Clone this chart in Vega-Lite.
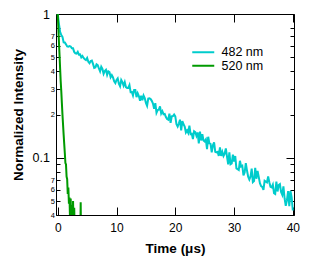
{
  "$schema": "https://vega.github.io/schema/vega-lite/v6.json",
  "width": 238,
  "height": 201,
  "autosize": {"type": "none"},
  "padding": {"left": 56, "top": 14, "right": 27, "bottom": 49},
  "background": "white",
  "config": {
    "font": "Liberation Sans",
    "view": {"stroke": "black", "strokeWidth": 1},
    "axis": {"grid": false, "domain": false, "tickColor": "black", "tickWidth": 1, "labelColor": "black", "titleColor": "black", "labelFont": "Liberation Sans", "titleFont": "Liberation Sans"}
  },
  "data": {"values": [
    {"s":"482 nm","t":0,"v":1.0},{"s":"482 nm","t":0.2,"v":0.855},{"s":"482 nm","t":0.4,"v":0.75},{"s":"482 nm","t":0.6,"v":0.713},{"s":"482 nm","t":0.8,"v":0.693},
    {"s":"482 nm","t":1.0,"v":0.636},{"s":"482 nm","t":1.2,"v":0.634},{"s":"482 nm","t":1.4,"v":0.615},{"s":"482 nm","t":1.6,"v":0.595},{"s":"482 nm","t":1.8,"v":0.593},
    {"s":"482 nm","t":2.0,"v":0.598},{"s":"482 nm","t":2.2,"v":0.594},{"s":"482 nm","t":2.4,"v":0.577},{"s":"482 nm","t":2.6,"v":0.577},{"s":"482 nm","t":2.8,"v":0.545},
    {"s":"482 nm","t":3.0,"v":0.532},{"s":"482 nm","t":3.2,"v":0.53},{"s":"482 nm","t":3.4,"v":0.545},{"s":"482 nm","t":3.6,"v":0.521},{"s":"482 nm","t":3.8,"v":0.523},
    {"s":"482 nm","t":4.0,"v":0.499},{"s":"482 nm","t":4.2,"v":0.51},{"s":"482 nm","t":4.4,"v":0.495},{"s":"482 nm","t":4.6,"v":0.484},{"s":"482 nm","t":4.8,"v":0.478},
    {"s":"482 nm","t":5.0,"v":0.494},{"s":"482 nm","t":5.2,"v":0.465},{"s":"482 nm","t":5.4,"v":0.455},{"s":"482 nm","t":5.6,"v":0.471},{"s":"482 nm","t":5.8,"v":0.474},
    {"s":"482 nm","t":6.0,"v":0.45},{"s":"482 nm","t":6.2,"v":0.422},{"s":"482 nm","t":6.4,"v":0.425},{"s":"482 nm","t":6.6,"v":0.447},{"s":"482 nm","t":6.8,"v":0.441},
    {"s":"482 nm","t":7.0,"v":0.418},{"s":"482 nm","t":7.2,"v":0.399},{"s":"482 nm","t":7.4,"v":0.43},{"s":"482 nm","t":7.6,"v":0.415},{"s":"482 nm","t":7.8,"v":0.384},
    {"s":"482 nm","t":8.0,"v":0.401},{"s":"482 nm","t":8.2,"v":0.409},{"s":"482 nm","t":8.4,"v":0.377},{"s":"482 nm","t":8.6,"v":0.399},{"s":"482 nm","t":8.8,"v":0.394},
    {"s":"482 nm","t":9.0,"v":0.363},{"s":"482 nm","t":9.2,"v":0.376},{"s":"482 nm","t":9.4,"v":0.362},{"s":"482 nm","t":9.6,"v":0.34},{"s":"482 nm","t":9.8,"v":0.331},
    {"s":"482 nm","t":10.0,"v":0.348},{"s":"482 nm","t":10.2,"v":0.357},{"s":"482 nm","t":10.4,"v":0.327},{"s":"482 nm","t":10.6,"v":0.314},{"s":"482 nm","t":10.8,"v":0.348},
    {"s":"482 nm","t":11.0,"v":0.336},{"s":"482 nm","t":11.2,"v":0.318},{"s":"482 nm","t":11.4,"v":0.336},{"s":"482 nm","t":11.6,"v":0.31},{"s":"482 nm","t":11.8,"v":0.306},
    {"s":"482 nm","t":12.0,"v":0.306},{"s":"482 nm","t":12.2,"v":0.32},{"s":"482 nm","t":12.4,"v":0.286},{"s":"482 nm","t":12.6,"v":0.287},{"s":"482 nm","t":12.8,"v":0.271},
    {"s":"482 nm","t":13.0,"v":0.296},{"s":"482 nm","t":13.2,"v":0.296},{"s":"482 nm","t":13.4,"v":0.264},{"s":"482 nm","t":13.6,"v":0.281},{"s":"482 nm","t":13.8,"v":0.269},
    {"s":"482 nm","t":14.0,"v":0.249},{"s":"482 nm","t":14.2,"v":0.27},{"s":"482 nm","t":14.4,"v":0.251},{"s":"482 nm","t":14.6,"v":0.271},{"s":"482 nm","t":14.8,"v":0.26},
    {"s":"482 nm","t":15.0,"v":0.241},{"s":"482 nm","t":15.2,"v":0.23},{"s":"482 nm","t":15.4,"v":0.258},{"s":"482 nm","t":15.6,"v":0.259},{"s":"482 nm","t":15.8,"v":0.256},
    {"s":"482 nm","t":16.0,"v":0.249},{"s":"482 nm","t":16.2,"v":0.238},{"s":"482 nm","t":16.4,"v":0.219},{"s":"482 nm","t":16.6,"v":0.24},{"s":"482 nm","t":16.8,"v":0.206},
    {"s":"482 nm","t":17.0,"v":0.215},{"s":"482 nm","t":17.2,"v":0.216},{"s":"482 nm","t":17.4,"v":0.228},{"s":"482 nm","t":17.6,"v":0.203},{"s":"482 nm","t":17.8,"v":0.211},
    {"s":"482 nm","t":18.0,"v":0.201},{"s":"482 nm","t":18.2,"v":0.202},{"s":"482 nm","t":18.4,"v":0.192},{"s":"482 nm","t":18.6,"v":0.186},{"s":"482 nm","t":18.8,"v":0.184},
    {"s":"482 nm","t":19.0,"v":0.203},{"s":"482 nm","t":19.2,"v":0.175},{"s":"482 nm","t":19.4,"v":0.194},{"s":"482 nm","t":19.6,"v":0.195},{"s":"482 nm","t":19.8,"v":0.2},
    {"s":"482 nm","t":20.0,"v":0.194},{"s":"482 nm","t":20.2,"v":0.171},{"s":"482 nm","t":20.4,"v":0.165},{"s":"482 nm","t":20.6,"v":0.173},{"s":"482 nm","t":20.8,"v":0.184},
    {"s":"482 nm","t":21.0,"v":0.155},{"s":"482 nm","t":21.2,"v":0.18},{"s":"482 nm","t":21.4,"v":0.171},{"s":"482 nm","t":21.6,"v":0.165},{"s":"482 nm","t":21.8,"v":0.15},
    {"s":"482 nm","t":22.0,"v":0.155},{"s":"482 nm","t":22.2,"v":0.149},{"s":"482 nm","t":22.4,"v":0.167},{"s":"482 nm","t":22.6,"v":0.146},{"s":"482 nm","t":22.8,"v":0.147},
    {"s":"482 nm","t":23.0,"v":0.135},{"s":"482 nm","t":23.2,"v":0.153},{"s":"482 nm","t":23.4,"v":0.151},{"s":"482 nm","t":23.6,"v":0.142},{"s":"482 nm","t":23.8,"v":0.15},
    {"s":"482 nm","t":24.0,"v":0.126},{"s":"482 nm","t":24.2,"v":0.152},{"s":"482 nm","t":24.4,"v":0.132},{"s":"482 nm","t":24.6,"v":0.146},{"s":"482 nm","t":24.8,"v":0.132},
    {"s":"482 nm","t":25.0,"v":0.13},{"s":"482 nm","t":25.2,"v":0.134},{"s":"482 nm","t":25.4,"v":0.115},{"s":"482 nm","t":25.6,"v":0.14},{"s":"482 nm","t":25.8,"v":0.126},
    {"s":"482 nm","t":26.0,"v":0.125},{"s":"482 nm","t":26.2,"v":0.109},{"s":"482 nm","t":26.4,"v":0.122},{"s":"482 nm","t":26.6,"v":0.128},{"s":"482 nm","t":26.8,"v":0.11},
    {"s":"482 nm","t":27.0,"v":0.109},{"s":"482 nm","t":27.2,"v":0.11},{"s":"482 nm","t":27.4,"v":0.103},{"s":"482 nm","t":27.6,"v":0.118},{"s":"482 nm","t":27.8,"v":0.103},
    {"s":"482 nm","t":28.0,"v":0.11},{"s":"482 nm","t":28.2,"v":0.103},{"s":"482 nm","t":28.4,"v":0.107},{"s":"482 nm","t":28.6,"v":0.116},{"s":"482 nm","t":28.8,"v":0.102},
    {"s":"482 nm","t":29.0,"v":0.0899},{"s":"482 nm","t":29.2,"v":0.109},{"s":"482 nm","t":29.4,"v":0.0902},{"s":"482 nm","t":29.6,"v":0.0914},{"s":"482 nm","t":29.8,"v":0.105},
    {"s":"482 nm","t":30.0,"v":0.0941},{"s":"482 nm","t":30.2,"v":0.1028},{"s":"482 nm","t":30.4,"v":0.0844},{"s":"482 nm","t":30.6,"v":0.0833},{"s":"482 nm","t":30.8,"v":0.0822},
    {"s":"482 nm","t":31.0,"v":0.0953},{"s":"482 nm","t":31.2,"v":0.087},{"s":"482 nm","t":31.4,"v":0.0881},{"s":"482 nm","t":31.6,"v":0.0755},{"s":"482 nm","t":31.8,"v":0.0791},
    {"s":"482 nm","t":32.0,"v":0.0917},{"s":"482 nm","t":32.2,"v":0.0815},{"s":"482 nm","t":32.4,"v":0.0738},{"s":"482 nm","t":32.6,"v":0.0705},{"s":"482 nm","t":32.8,"v":0.074},
    {"s":"482 nm","t":33.0,"v":0.0841},{"s":"482 nm","t":33.2,"v":0.0677},{"s":"482 nm","t":33.4,"v":0.0689},{"s":"482 nm","t":33.6,"v":0.0851},{"s":"482 nm","t":33.8,"v":0.0715},
    {"s":"482 nm","t":34.0,"v":0.081},{"s":"482 nm","t":34.2,"v":0.0737},{"s":"482 nm","t":34.4,"v":0.0665},{"s":"482 nm","t":34.6,"v":0.0636},{"s":"482 nm","t":34.8,"v":0.0628},
    {"s":"482 nm","t":35.0,"v":0.0598},{"s":"482 nm","t":35.2,"v":0.0691},{"s":"482 nm","t":35.4,"v":0.0682},{"s":"482 nm","t":35.6,"v":0.0674},{"s":"482 nm","t":35.8,"v":0.0742},
    {"s":"482 nm","t":36.0,"v":0.0676},{"s":"482 nm","t":36.2,"v":0.0629},{"s":"482 nm","t":36.4,"v":0.0622},{"s":"482 nm","t":36.6,"v":0.065},{"s":"482 nm","t":36.8,"v":0.0567},
    {"s":"482 nm","t":37.0,"v":0.056},{"s":"482 nm","t":37.2,"v":0.0682},{"s":"482 nm","t":37.4,"v":0.0583},{"s":"482 nm","t":37.6,"v":0.0647},{"s":"482 nm","t":37.8,"v":0.0656},
    {"s":"482 nm","t":38.0,"v":0.0578},{"s":"482 nm","t":38.2,"v":0.0553},{"s":"482 nm","t":38.4,"v":0.0633},{"s":"482 nm","t":38.6,"v":0.0521},{"s":"482 nm","t":38.8,"v":0.0463},
    {"s":"482 nm","t":39.0,"v":0.0507},{"s":"482 nm","t":39.2,"v":0.0587},{"s":"482 nm","t":39.4,"v":0.0461},{"s":"482 nm","t":39.6,"v":0.0587},{"s":"482 nm","t":39.8,"v":0.0531},
    {"s":"482 nm","t":40.0,"v":0.043},
    {"s":"520 nm","t":0,"v":1.0},{"s":"520 nm","t":0.1,"v":0.8},{"s":"520 nm","t":0.2,"v":0.64},{"s":"520 nm","t":0.3,"v":0.52},{"s":"520 nm","t":0.4,"v":0.42},
    {"s":"520 nm","t":0.5,"v":0.34},{"s":"520 nm","t":0.6,"v":0.29},{"s":"520 nm","t":0.7,"v":0.24},{"s":"520 nm","t":0.8,"v":0.2},{"s":"520 nm","t":0.9,"v":0.17},
    {"s":"520 nm","t":1.0,"v":0.145},{"s":"520 nm","t":1.1,"v":0.125},{"s":"520 nm","t":1.2,"v":0.108},{"s":"520 nm","t":1.3,"v":0.092},{"s":"520 nm","t":1.4,"v":0.09},
    {"s":"520 nm","t":1.5,"v":0.074},{"s":"520 nm","t":1.6,"v":0.071},{"s":"520 nm","t":1.7,"v":0.056},{"s":"520 nm","t":1.8,"v":0.062},{"s":"520 nm","t":1.9,"v":0.048},
    {"s":"520 nm","t":2.0,"v":0.053},{"s":"520 nm","t":2.1,"v":0.035},{"s":"520 nm","t":2.2,"v":0.052},{"s":"520 nm","t":2.3,"v":0.032},{"s":"520 nm","t":2.4,"v":0.047},
    {"s":"520 nm","t":2.5,"v":0.03},{"s":"520 nm","t":2.6,"v":0.05},{"s":"520 nm","t":2.7,"v":0.033},{"s":"520 nm","t":2.8,"v":0.045},{"s":"520 nm","t":2.9,"v":0.028},
    {"s":"520 nm","t":3.0,"v":0.025},{"s":"520 nm","t":3.2,"v":0.02},{"s":"520 nm","t":3.4,"v":0.022},{"s":"520 nm","t":3.6,"v":0.02},{"s":"520 nm","t":3.8,"v":0.02},
    {"s":"520 nm","t":3.9,"v":0.049},{"s":"520 nm","t":4.0,"v":0.02},{"s":"520 nm","t":4.4,"v":0.02},{"s":"520 nm","t":5.0,"v":0.018},{"s":"520 nm","t":6.0,"v":0.015}
  ]},
  "layer": [
    {
      "transform": [{"filter": "datum.s == '482 nm'"}],
      "mark": {"type": "line", "clip": true, "strokeWidth": 2},
      "encoding": {
        "x": {"field": "t", "type": "quantitative", "scale": {"domain": [-0.3, 40.2], "nice": false, "zero": false},
          "axis": {"orient": "bottom", "values": [0, 10, 20, 30, 40], "tickSize": -8, "labelPadding": 15.5, "labelFontSize": 12, "labelBaseline": "top",
            "title": "Time (μs)", "titleFontSize": 13.5, "titleFontWeight": "bold", "titleX": 119, "titleY": 33, "titleBaseline": "middle", "titleAnchor": "middle"}},
        "y": {"field": "v", "type": "quantitative", "scale": {"type": "log", "domain": [0.04, 1], "nice": false},
          "axis": {"orient": "left", "values": [1, 0.8, 0.7, 0.6, 0.5, 0.4, 0.3, 0.2, 0.1, 0.09, 0.08, 0.07, 0.06, 0.05, 0.04],
            "labelExpr": "datum.value == 1 ? '1' : datum.value == 0.1 ? '0.1' : (datum.value == 0.8 || datum.value == 0.09 || datum.value == 0.08) ? '' : datum.value > 0.1 ? format(datum.value * 10, '.0f') : format(datum.value * 100, '.0f')",
            "tickSize": {"condition": {"test": "datum.value == 1 || datum.value == 0.1", "value": -8}, "value": -4},
            "labelPadding": {"condition": {"test": "datum.value == 1 || datum.value == 0.1", "value": 14.5}, "value": 5.5},
            "labelFontSize": {"condition": {"test": "datum.value == 1 || datum.value == 0.1", "value": 12.5}, "value": 7.5},
            "labelFlush": false, "labelOverlap": false,
            "title": "Normalized Intensity", "titleFontSize": 13.5, "titleFontWeight": "bold", "titleX": -38, "titleY": 100.5, "titleBaseline": "middle", "titleAnchor": "middle"}},
        "color": {"field": "s", "type": "nominal", "scale": {"domain": ["482 nm", "520 nm"], "range": ["#00cccc", "#009a00"]},
          "legend": {"orient": "none", "legendX": 141, "legendY": 32, "title": null, "symbolType": "M-2.75,0H2.75", "symbolSize": 64, "symbolStrokeWidth": 2, "labelFontSize": 12.5, "labelOffset": 12, "rowPadding": 0.5, "labelFont": "Liberation Sans", "labelColor": "black"}}
      }
    },
    {
      "transform": [{"filter": "datum.s == '520 nm'"}],
      "mark": {"type": "line", "clip": true, "strokeWidth": 2},
      "encoding": {
        "x": {"field": "t", "type": "quantitative", "scale": {"domain": [-0.3, 40.2], "nice": false, "zero": false}, "axis": null},
        "y": {"field": "v", "type": "quantitative", "scale": {"type": "log", "domain": [0.04, 1], "nice": false}, "axis": null},
        "color": {"field": "s", "type": "nominal", "scale": {"domain": ["482 nm", "520 nm"], "range": ["#00cccc", "#009a00"]}}
      }
    },
    {
      "mark": {"type": "line", "clip": true, "opacity": 0},
      "encoding": {
        "x": {"field": "t", "type": "quantitative", "scale": {"domain": [-0.3, 40.2], "nice": false, "zero": false},
          "axis": {"orient": "top", "values": [0, 10, 20, 30, 40], "tickSize": -8, "labels": false, "title": null}},
        "y": {"field": "v", "type": "quantitative", "scale": {"type": "log", "domain": [0.04, 1], "nice": false},
          "axis": {"orient": "right", "values": [1, 0.8, 0.7, 0.6, 0.5, 0.4, 0.3, 0.2, 0.1, 0.09, 0.08, 0.07, 0.06, 0.05, 0.04], "labels": false, "title": null,
            "tickSize": {"condition": {"test": "datum.value == 1 || datum.value == 0.1", "value": -8}, "value": -4}}},
        "detail": {"field": "s", "type": "nominal"}
      }
    }
  ],
  "resolve": {"axis": {"x": "independent", "y": "independent"}}
}
